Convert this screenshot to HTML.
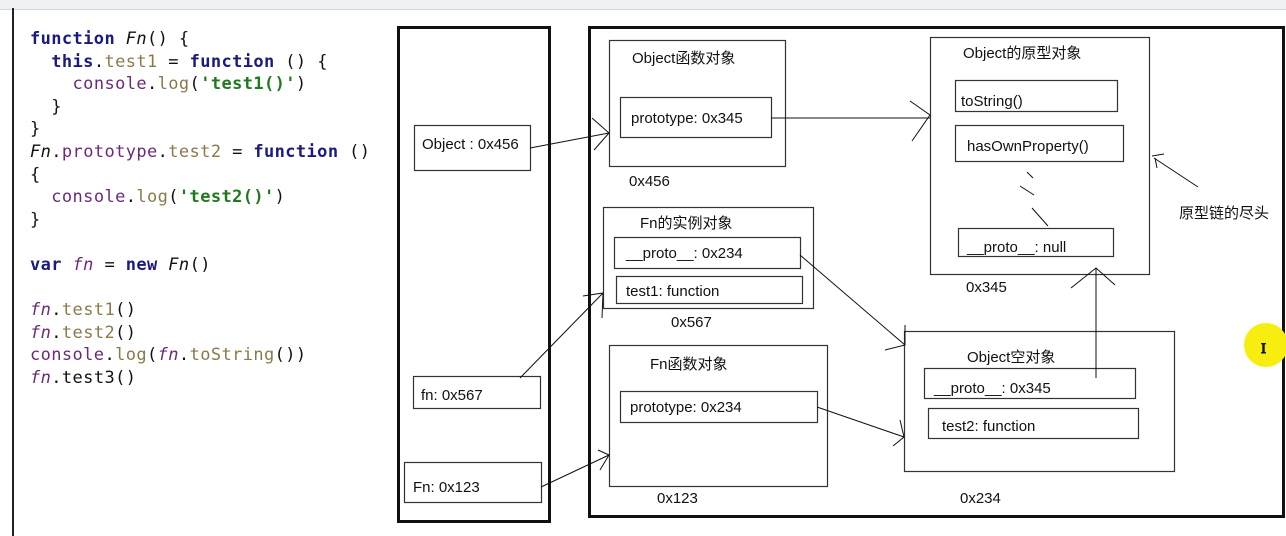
<!DOCTYPE html>
<html><head><meta charset="utf-8"><style>
body{margin:0;width:1286px;height:536px;background:#fff;overflow:hidden;position:relative;font-family:"Liberation Sans","Noto Sans CJK SC",sans-serif}
.top{position:absolute;left:0;top:0;width:1286px;height:9px;background:#f0f1f3;border-bottom:1px solid #cfd6e0}
.lb{position:absolute;left:12px;top:8px;width:2px;height:528px;background:#222}
pre{position:absolute;left:30px;top:28px;margin:0;font-family:"DejaVu Sans Mono","Liberation Mono",monospace;font-size:17px;line-height:22.6px;color:#111;letter-spacing:0.4px}
.k{color:#1a1a80;font-weight:bold}.p{color:#6b2a7a}.m{color:#8a7a4a}.s{color:#1f7a1f;font-weight:bold}.i{color:#6b2a7a;font-style:italic}.f{font-style:italic}
svg{position:absolute;left:0;top:0}
svg text{font-family:"Liberation Sans","Noto Sans CJK SC",sans-serif;font-size:15px;fill:#111}
</style></head><body>
<div class="top"></div><div class="lb"></div>
<pre><span class="k">function</span> <span class="f">Fn</span>() {
  <span class="k">this</span>.<span class="m">test1</span> = <span class="k">function</span> () {
    <span class="p">console</span>.<span class="m">log</span>(<span class="s">'test1()'</span>)
  }
}
<span class="f">Fn</span>.<span class="p">prototype</span>.<span class="m">test2</span> = <span class="k">function</span> ()
{
  <span class="p">console</span>.<span class="m">log</span>(<span class="s">'test2()'</span>)
}

<span class="k">var</span> <span class="i">fn</span> = <span class="k">new</span> <span class="f">Fn</span>()

<span class="i">fn</span>.<span class="m">test1</span>()
<span class="i">fn</span>.<span class="m">test2</span>()
<span class="p">console</span>.<span class="m">log</span>(<span class="i">fn</span>.<span class="m">toString</span>())
<span class="i">fn</span>.test3()</pre>
<svg width="1286" height="536" fill="none" stroke="#111">
<rect x="398.5" y="27.5" width="151" height="494" stroke-width="3"/>
<rect x="589.5" y="27.5" width="694" height="489" stroke-width="3"/>
<g stroke-width="1.2" stroke="#333">
<rect x="414.5" y="125.5" width="116" height="45"/>
<rect x="413.5" y="376.5" width="127" height="32"/>
<rect x="404.5" y="462.5" width="137" height="40"/>
<rect x="609.5" y="40.5" width="176" height="126"/>
<rect x="620.5" y="97.5" width="151" height="40"/>
<rect x="603.5" y="207.5" width="210" height="101"/>
<rect x="614.5" y="237.5" width="186" height="31"/>
<rect x="616.5" y="276.5" width="186" height="27"/>
<rect x="609.5" y="345.5" width="218" height="141"/>
<rect x="620.5" y="391.5" width="197" height="31"/>
<rect x="930.5" y="37.5" width="219" height="237"/>
<rect x="955.5" y="80.5" width="162" height="31"/>
<rect x="955.5" y="125.5" width="168" height="36"/>
<rect x="958.5" y="228.5" width="155" height="28"/>
<rect x="904.5" y="331.5" width="270" height="140"/>
<rect x="924.5" y="368.5" width="211" height="30"/>
<rect x="928.5" y="408.5" width="210" height="30"/>
</g>
<g stroke-width="1">
<path d="M530 148 L609 133 M592 118 L609 133 L594 150"/>
<path d="M771 118 L930 118 M910 101 L930 115 L912 141"/>
<path d="M520 378 L603 293 M583 296 L603 293 L602 318"/>
<path d="M541 487 L609 455 M598 450 L609 455 L600 470"/>
<path d="M800 255 L905 345 M885 350 L905 345 L905 325"/>
<path d="M817 407 L904 437 M900 420 L904 437 L893 446"/>
<path d="M1096 378 L1096 268 M1071 288 L1096 268 L1115 285"/>
<path d="M1198 187 L1154 158 M1152 156 L1164 154 M1155 158 L1157 168"/>
<path d="M1027 172 L1033 178 M1020 186 L1034 195 M1032 208 L1048 226"/>
</g>
<circle cx="1266" cy="345" r="22" fill="#f7ee10" stroke="none"/>
<text x="1261" y="353" font-size="18" style="font-family:'Liberation Serif'">I</text>
<g stroke="none">
<text x="422" y="149">Object : 0x456</text>
<text x="421" y="400">fn: 0x567</text>
<text x="413" y="492">Fn: 0x123</text>
<text x="632" y="63">Object函数对象</text>
<text x="631" y="123">prototype: 0x345</text>
<text x="629" y="186">0x456</text>
<text x="640" y="228">Fn的实例对象</text>
<text x="626" y="258">__proto__: 0x234</text>
<text x="626" y="296">test1: function</text>
<text x="671" y="327">0x567</text>
<text x="650" y="369">Fn函数对象</text>
<text x="630" y="412">prototype: 0x234</text>
<text x="657" y="503">0x123</text>
<text x="963" y="58">Object的原型对象</text>
<text x="961" y="106">toString()</text>
<text x="967" y="151">hasOwnProperty()</text>
<text x="967" y="252">__proto__: null</text>
<text x="966" y="292">0x345</text>
<text x="967" y="362">Object空对象</text>
<text x="934" y="393">__proto__: 0x345</text>
<text x="942" y="431">test2: function</text>
<text x="960" y="503">0x234</text>
<text x="1179" y="218" font-size="13">原型链的尽头</text>
</g>
</svg>
</body></html>
